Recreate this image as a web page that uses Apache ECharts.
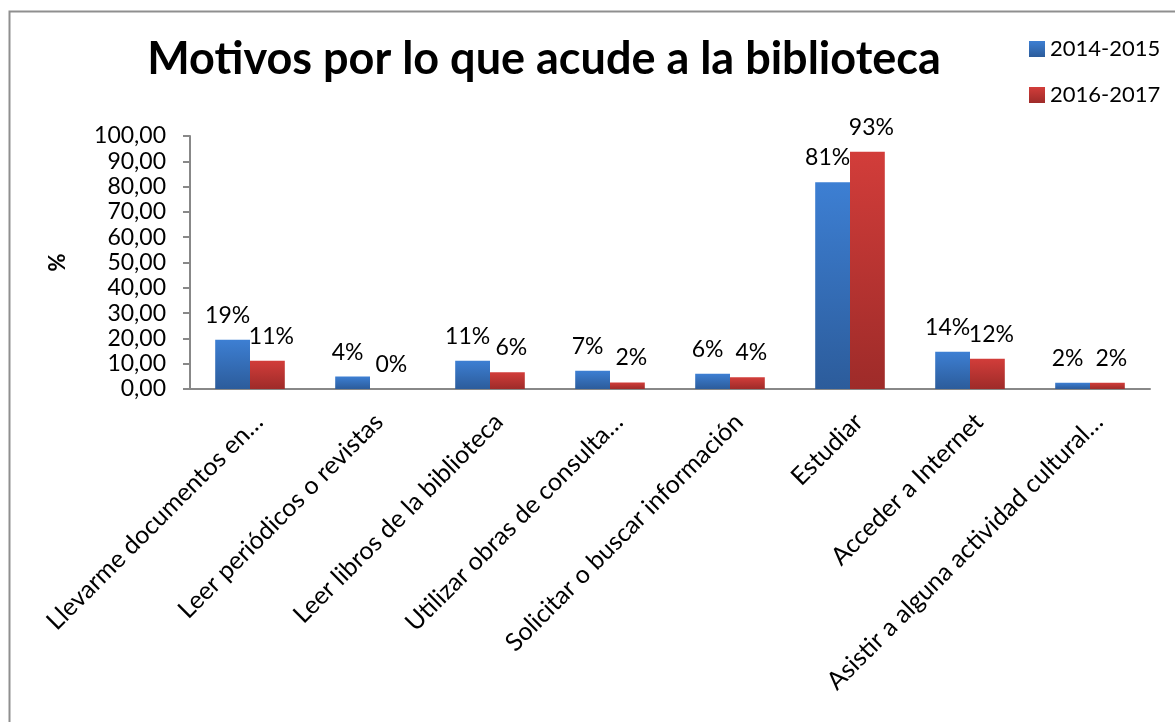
<!DOCTYPE html>
<html>
<head>
<meta charset="utf-8">
<script src="https://cdn.jsdelivr.net/npm/echarts@6/dist/echarts.min.js"></script>
<style>
html,body{margin:0;padding:0;background:#fff;}
#c{width:1175px;height:722px;}
</style>
</head>
<body>
<div id="c"></div>
<script>
const categories = [
  "Llevarme documentos en…",
  "Leer periódicos o revistas",
  "Leer libros de la biblioteca",
  "Utilizar obras de consulta…",
  "Solicitar o buscar información",
  "Estudiar",
  "Acceder a Internet",
  "Asistir a alguna actividad cultural…"
];
const seriesNames = ["2014-2015", "2016-2017"];
const values2014 = [19.5, 4.9, 11.2, 7.2, 6.0, 81.7, 14.7, 2.5];
const values2016 = [11.2, 0.0, 6.6, 2.6, 4.6, 93.8, 12.0, 2.5];
const labels2014 = ["19%", "4%", "11%", "7%", "6%", "81%", "14%", "2%"];
const labels2016 = ["11%", "0%", "6%", "2%", "4%", "93%", "12%", "2%"];
const yTicks = [0, 10, 20, 30, 40, 50, 60, 70, 80, 90, 100];

const FONT = "Lato, 'Noto Sans', sans-serif";
const grad = (top, bottom) => new echarts.graphic.LinearGradient(0, 0, 0, 1, [
  {offset: 0, color: top}, {offset: 1, color: bottom}
]);
const blue = grad('#3d7fd3', '#2c5c9b');
const red = grad('#d23d3a', '#9e2b29');

const chart = echarts.init(document.getElementById('c'), null, {renderer: 'canvas'});
chart.setOption({
  animation: false,
  backgroundColor: '#fff',
  textStyle: {fontFamily: FONT},
  graphic: [{
    type: 'rect', left: 7, top: 9, silent: true,
    shape: {x: 0, y: 0, width: 1300, height: 900},
    style: {fill: 'none', stroke: '#8f8f8f', lineWidth: 2}
  }],
  title: {
    text: 'Motivos por lo que acude a la biblioteca',
    left: 539, top: 32, textAlign: 'center',
    textStyle: {fontFamily: FONT, fontWeight: 'bold', fontSize: 45, color: '#000'}
  },
  legend: {
    orient: 'vertical', left: 1024, top: 33,
    itemWidth: 16, itemHeight: 16, itemGap: 24,
    icon: 'rect',
    textStyle: {fontFamily: FONT, fontSize: 22, color: '#000', padding: [0, 0, 0, 0]},
    data: seriesNames
  },
  grid: {left: 190, right: 25, top: 136, bottom: 333, containLabel: false},
  xAxis: {
    type: 'category', data: categories,
    axisLine: {lineStyle: {color: '#888', width: 2}},
    axisTick: {show: false},
    axisLabel: {rotate: 45, interval: 0, fontFamily: FONT, fontSize: 25, color: '#000',
      margin: 20, verticalAlign: 'top'}
  },
  yAxis: {
    type: 'value', min: 0, max: 100, interval: 10,
    name: '%', nameLocation: 'middle', nameGap: 121, nameRotate: 90,
    nameTextStyle: {fontFamily: FONT, fontWeight: 'bold', fontSize: 22, color: '#000'},
    axisLine: {show: true, lineStyle: {color: '#888', width: 2}},
    axisTick: {show: true, inside: false, length: 7, lineStyle: {color: '#888', width: 2}},
    splitLine: {show: false},
    axisLabel: {
      fontFamily: FONT, fontSize: 23, color: '#000', margin: 24,
      formatter: v => yTicks.includes(v) ? v.toFixed(2).replace('.', ',') : ''
    }
  },
  series: [
    {
      name: seriesNames[0], type: 'bar', data: values2014,
      barGap: '0%', barCategoryGap: '42%',
      itemStyle: {color: blue},
      label: {show: true, position: 'top', distance: 13, offset: [-5, 0],
        fontFamily: FONT, fontSize: 23, color: '#000',
        formatter: p => labels2014[p.dataIndex]}
    },
    {
      name: seriesNames[1], type: 'bar', data: values2016,
      barGap: '0%', barCategoryGap: '42%',
      itemStyle: {color: red},
      label: {show: true, position: 'top', distance: 13, offset: [4, 0],
        fontFamily: FONT, fontSize: 23, color: '#000',
        formatter: p => labels2016[p.dataIndex]}
    }
  ]
});
</script>
</body>
</html>
